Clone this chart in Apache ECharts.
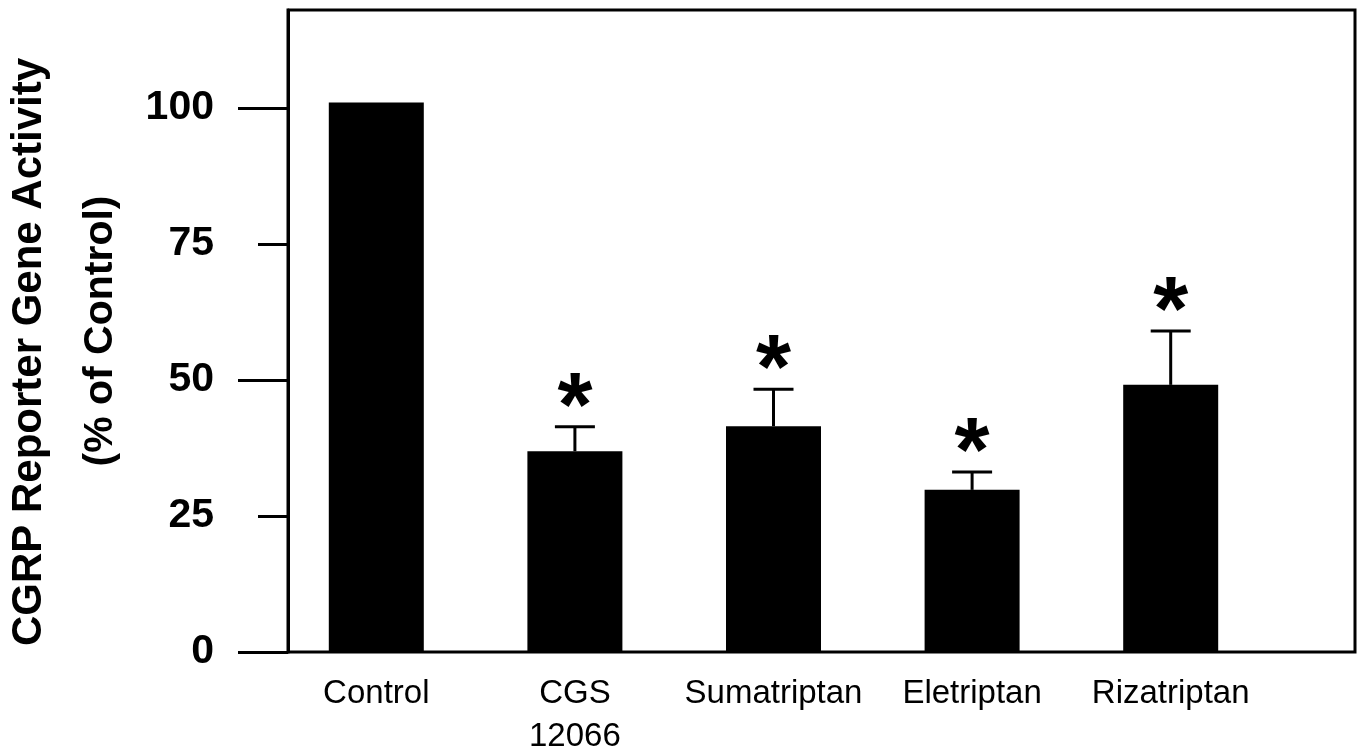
<!DOCTYPE html>
<html><head><meta charset="utf-8">
<script src="https://cdn.jsdelivr.net/npm/echarts@6/dist/echarts.min.js"></script>
<style>html,body{margin:0;padding:0;background:#fff}#c{width:1363px;height:751px}</style>
</head><body><div id="c"></div>
<script>
// ---- data ----
const categories = ['Control', 'CGS\n12066', 'Sumatriptan', 'Eletriptan', 'Rizatriptan'];
const means = [101, 36.9, 41.5, 29.8, 49.1];
const errors = [0, 4.5, 6.8, 3.3, 9.9];
const significant = [false, true, true, true, true];
const yTickLabels = [0, 25, 50, 75, 100];
const yMajorTicks = [0, 50, 100];
const yMinorTicks = [25, 75];
const yAxisTitle = 'CGRP Reporter Gene Activity';
const yAxisSubtitle = '(% of Control)';
const Y_MAX = 118;

const FONT = 'Liberation Sans, Arial, sans-serif';
const chart = echarts.init(document.getElementById('c'), null, {renderer: 'canvas'});

const errData = categories.map((c, i) => [i, means[i], errors[i], significant[i] ? 1 : 0]);

chart.setOption({
  backgroundColor: '#fff',
  animation: false,
  grid: [
    {left: 277, right: 93, top: 10, bottom: 99, show: false, containLabel: false, outerBoundsMode: 'none'},
    {left: 288, right: 8, top: 10, bottom: 99, show: true, borderColor: '#000', borderWidth: 3, backgroundColor: 'transparent', z: 5, containLabel: false, outerBoundsMode: 'none'},
    {left: 288, right: 8, top: 10, bottom: 99, show: false, containLabel: false, outerBoundsMode: 'none'}
  ],
  xAxis: [
    {gridIndex: 0, type: 'category', data: categories,
     axisLine: {show: false}, axisTick: {show: false},
     axisLabel: {interval: 0, color: '#000', fontFamily: FONT, fontSize: 33, lineHeight: 43, margin: 20}},
    {gridIndex: 1, type: 'value', show: false, min: 0, max: 1},
    {gridIndex: 2, type: 'value', show: false, min: 0, max: 1}
  ],
  yAxis: [
    {gridIndex: 0, type: 'value', min: 0, max: Y_MAX, show: false},
    {gridIndex: 1, type: 'value', min: 0, max: Y_MAX, position: 'left',
     splitLine: {show: false},
     axisLine: {show: true, lineStyle: {color: '#000', width: 3}},
     axisTick: {show: true, customValues: yMajorTicks, length: 50, lineStyle: {color: '#000', width: 3}},
     axisLabel: {customValues: yTickLabels, color: '#000', fontFamily: FONT, fontWeight: 'bold', fontSize: 41, margin: 74},
     name: yAxisSubtitle, nameLocation: 'middle', nameGap: 167,
     nameTextStyle: {color: '#000', fontFamily: FONT, fontWeight: 'bold', fontSize: 41}},
    {gridIndex: 2, type: 'value', min: 0, max: Y_MAX, position: 'left',
     splitLine: {show: false},
     axisLine: {show: false},
     axisTick: {show: true, customValues: yMinorTicks, length: 30, lineStyle: {color: '#000', width: 3}},
     axisLabel: {show: false},
     name: yAxisTitle, nameLocation: 'middle', nameGap: 238,
     nameTextStyle: {color: '#000', fontFamily: FONT, fontWeight: 'bold', fontSize: 42, padding: [0, 42, 0, 0]}}
  ],
  series: [
    {type: 'bar', xAxisIndex: 0, yAxisIndex: 0, data: means, barWidth: 95,
     itemStyle: {color: '#000'}},
    {type: 'custom', xAxisIndex: 0, yAxisIndex: 0, data: errData, z: 3,
     renderItem: function (params, api) {
       const x = api.value(0), v = api.value(1), e = api.value(2), sig = api.value(3);
       const base = api.coord([x, v]);
       const top = api.coord([x, v + e]);
       const children = [];
       if (e > 0) {
         children.push({type: 'line', shape: {x1: base[0], y1: base[1], x2: top[0], y2: top[1]},
           style: {stroke: '#000', lineWidth: 3}});
         children.push({type: 'line', shape: {x1: top[0] - 20, y1: top[1], x2: top[0] + 20, y2: top[1]},
           style: {stroke: '#000', lineWidth: 3}});
       }
       if (sig) {
         children.push({type: 'text', x: top[0], y: top[1] - 16,
           style: {text: '*', fill: '#000', font: 'bold 90px ' + FONT, textAlign: 'center', textVerticalAlign: 'middle'}});
       }
       return {type: 'group', children: children};
     }}
  ]
});
</script>
</body></html>
